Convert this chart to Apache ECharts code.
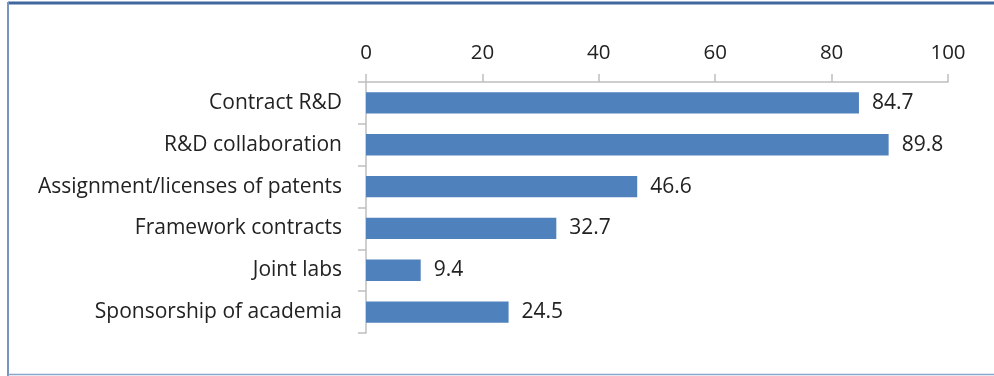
<!DOCTYPE html>
<html>
<head>
<meta charset="utf-8">
<script src="https://cdn.jsdelivr.net/npm/echarts@6/dist/echarts.min.js"></script>
<style>
html,body{margin:0;padding:0;background:#fff;}
#chart{width:994px;height:376px;}
</style>
</head>
<body>
<div id="chart"></div>
<script>
const categories = ["Contract R&D", "R&D collaboration", "Assignment/licenses of patents", "Framework contracts", "Joint labs", "Sponsorship of academia"];
const values = [84.7, 89.8, 46.6, 32.7, 9.4, 24.5];
const xTicks = [0, 20, 40, 60, 80, 100];

const FONT = "Open Sans";
const chart = echarts.init(document.getElementById('chart'), null, {renderer: 'canvas'});
chart.setOption({
  animation: false,
  backgroundColor: '#fff',
  grid: {left: 366, right: 46, top: 82, bottom: 43, containLabel: false},
  xAxis: {
    type: 'value', position: 'top', min: xTicks[0], max: xTicks[xTicks.length - 1], interval: 20,
    axisLine: {show: true, lineStyle: {color: '#bfbfbf', width: 1.5}},
    axisTick: {show: true, length: 8, lineStyle: {color: '#bfbfbf', width: 1.5}},
    splitLine: {show: false},
    axisLabel: {margin: 18, color: '#222', fontFamily: FONT, fontSize: 20.5}
  },
  yAxis: {
    type: 'category', data: categories, inverse: true,
    axisLine: {show: true, lineStyle: {color: '#bfbfbf', width: 1.5}},
    axisTick: {show: true, length: 8, lineStyle: {color: '#bfbfbf', width: 1.5}},
    axisLabel: {margin: 24, color: '#222', fontFamily: FONT, fontSize: 21}
  },
  series: [{
    type: 'bar', data: values, barCategoryGap: '49%',
    itemStyle: {color: '#4f81bd'},
    label: {show: true, position: 'right', distance: 13, color: '#222', fontFamily: FONT, fontSize: 21}
  }],
  graphic: [
    {type: 'line', shape: {x1: 8, y1: 3, x2: 994, y2: 3}, style: {stroke: '#41679f', lineWidth: 3}},
    {type: 'line', shape: {x1: 8, y1: 2, x2: 8, y2: 376}, style: {stroke: '#7896c4', lineWidth: 2}},
    {type: 'line', shape: {x1: 8, y1: 374.5, x2: 994, y2: 374.5}, style: {stroke: '#8aa4cb', lineWidth: 1.5}}
  ]
});
</script>
</body>
</html>
